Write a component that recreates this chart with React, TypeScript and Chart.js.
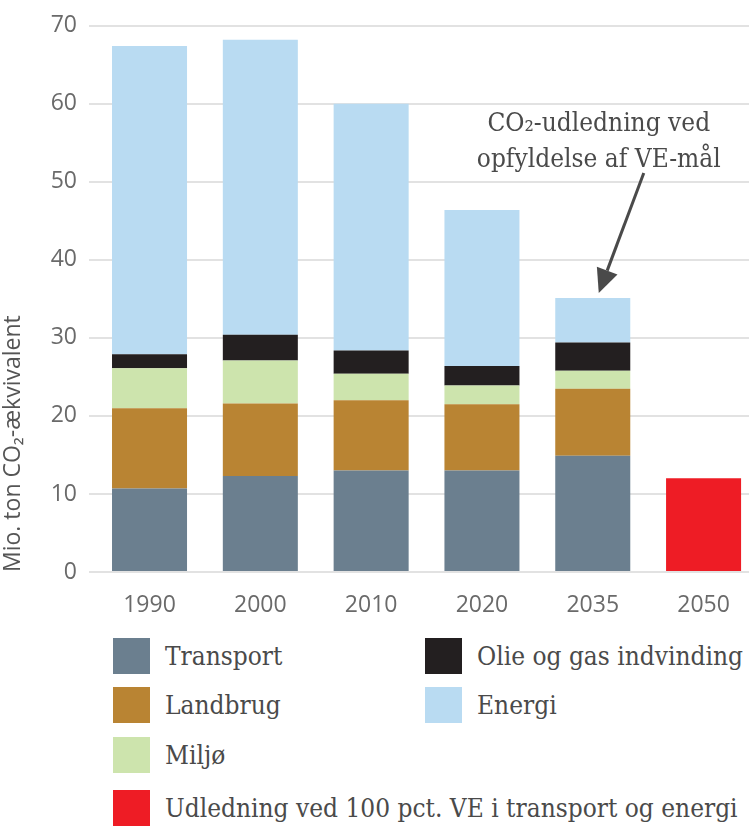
import React, { useEffect, useRef } from "react";
import { Chart, registerables } from "chart.js";

Chart.register(...registerables);

const years = ["1990", "2000", "2010", "2020", "2035", "2050"];
const transport = [10.7, 12.3, 13.0, 13.0, 14.9, null];
const landbrug = [10.3, 9.3, 9.0, 8.5, 8.6, null];
const miljo = [5.1, 5.5, 3.4, 2.4, 2.3, null];
const olie = [1.8, 3.3, 3.0, 2.5, 3.6, null];
const energi = [39.5, 37.8, 31.6, 20.0, 5.7, null];
const udledning = [null, null, null, null, null, 12.0];
const yTicks = [0, 10, 20, 30, 40, 50, 60, 70];

const COLORS = {
  transport: "#6b7f8f",
  landbrug: "#b98433",
  miljo: "#cde4ad",
  olie: "#231f20",
  energi: "#b9dbf2",
  red: "#ee1c25",
};

const SERIF = "'DejaVu Serif Condensed', 'DejaVu Serif', serif";
const SANS = "'Open Sans', sans-serif";

const annotationPlugin = {
  id: "annot",
  afterDatasetsDraw(chart: any) {
    const ctx = chart.ctx;
    const xs = chart.scales.x;
    const ys = chart.scales.y;
    const cx = xs.getPixelForValue(4);
    const total = transport[4]! + landbrug[4]! + miljo[4]! + olie[4]! + energi[4]!;
    const tipX = cx + 6;
    const tipY = ys.getPixelForValue(total) - 5;
    ctx.save();
    ctx.fillStyle = "#4a4a4a";
    ctx.font = `26px ${SERIF}`;
    ctx.textAlign = "center";
    ctx.textBaseline = "alphabetic";
    const textX = cx + 6;
    ctx.fillText("CO\u2082-udledning ved", textX, 131);
    ctx.fillText("opfyldelse af VE-mål", textX, 167);
    const sx = tipX + 45;
    const sy = 173;
    const ang = Math.atan2(tipY - sy, tipX - sx);
    const headLen = 24;
    const headW = 11;
    const bx = tipX - headLen * Math.cos(ang);
    const by = tipY - headLen * Math.sin(ang);
    ctx.strokeStyle = "#4a4a4a";
    ctx.lineWidth = 3;
    ctx.beginPath();
    ctx.moveTo(sx, sy);
    ctx.lineTo(bx, by);
    ctx.stroke();
    ctx.beginPath();
    ctx.moveTo(tipX, tipY);
    ctx.lineTo(bx + headW * Math.sin(ang), by - headW * Math.cos(ang));
    ctx.lineTo(bx - headW * Math.sin(ang), by + headW * Math.cos(ang));
    ctx.closePath();
    ctx.fill();
    ctx.restore();
  },
};

function App() {
  const ref = useRef<HTMLCanvasElement | null>(null);
  useEffect(() => {
    if (!ref.current) return;
    const mk = (label: string, data: any[], color: string) => ({
      label,
      data: data.map((v, i) => ({ x: i, y: v })),
      backgroundColor: color,
      borderWidth: 0,
      barPercentage: 0.677,
      categoryPercentage: 1,
    });
    const chart = new Chart(ref.current, {
      type: "bar",
      data: {
        datasets: [
          mk("Transport", transport, COLORS.transport),
          mk("Landbrug", landbrug, COLORS.landbrug),
          mk("Miljø", miljo, COLORS.miljo),
          mk("Olie og gas indvinding", olie, COLORS.olie),
          mk("Energi", energi, COLORS.energi),
          mk("Udledning ved 100 pct. VE i transport og energi", udledning, COLORS.red),
        ],
      },
      options: {
        responsive: false,
        animation: false,
        maintainAspectRatio: false,
        layout: { padding: { top: 24, right: 0, left: 0, bottom: 0 } },
        plugins: { legend: { display: false }, tooltip: { enabled: false } },
        scales: {
          x: {
            type: "linear",
            stacked: true,
            offset: false,
            min: -0.483,
            max: 5.41,
            afterBuildTicks(scale: any) {
              scale.ticks = years.map((_, i) => ({ value: i }));
            },
            grid: { display: false },
            border: { display: false },
            ticks: {
              color: "#6a6a6a",
              padding: 12,
              autoSkip: false,
              maxRotation: 0,
              callback: (v: any) => years[v as number],
              font: { family: SANS, size: 23 },
            },
            afterFit(scale: any) {
              scale.height = 53;
            },
          },
          y: {
            stacked: true,
            min: 0,
            max: 70,
            afterBuildTicks(scale: any) {
              scale.ticks = yTicks.map((v) => ({ value: v }));
            },
            grid: {
              color: "#e2e2e2",
              lineWidth: 2,
              drawTicks: true,
              tickLength: 7,
            },
            border: { display: false },
            ticks: {
              color: "#6a6a6a",
              padding: 12,
              font: { family: SANS, size: 23 },
            },
            title: {
              display: true,
              align: "start",
              text: "Mio. ton CO\u2082-ækvivalent",
              color: "#555",
              padding: { top: 0, bottom: 0 },
              font: { family: SANS, size: 23 },
            },
            afterFit(scale: any) {
              scale.width = 96;
            },
          },
        },
      },
      plugins: [annotationPlugin],
    });
    return () => chart.destroy();
  }, []);

  const legendItem = (label: string, color: string, left: number, top: number) => (
    <div
      key={label}
      style={{ position: "absolute", left, top, display: "flex", alignItems: "center", whiteSpace: "nowrap" }}
    >
      <div style={{ width: 37, height: 36, background: color, marginRight: 15 }} />
      <span style={{ fontFamily: SERIF, fontSize: 26, color: "#4a4a4a" }}>{label}</span>
    </div>
  );

  return (
    <div style={{ position: "absolute", left: 0, top: 0, width: 749, height: 827, background: "#fff" }}>
      <canvas ref={ref} width={749} height={625} style={{ display: "block" }} />
      {legendItem("Transport", COLORS.transport, 113, 638)}
      {legendItem("Landbrug", COLORS.landbrug, 113, 687)}
      {legendItem("Miljø", COLORS.miljo, 113, 737)}
      {legendItem("Udledning ved 100 pct. VE i transport og energi", COLORS.red, 113, 790)}
      {legendItem("Olie og gas indvinding", COLORS.olie, 425, 638)}
      {legendItem("Energi", COLORS.energi, 425, 687)}
    </div>
  );
}

export default App;
